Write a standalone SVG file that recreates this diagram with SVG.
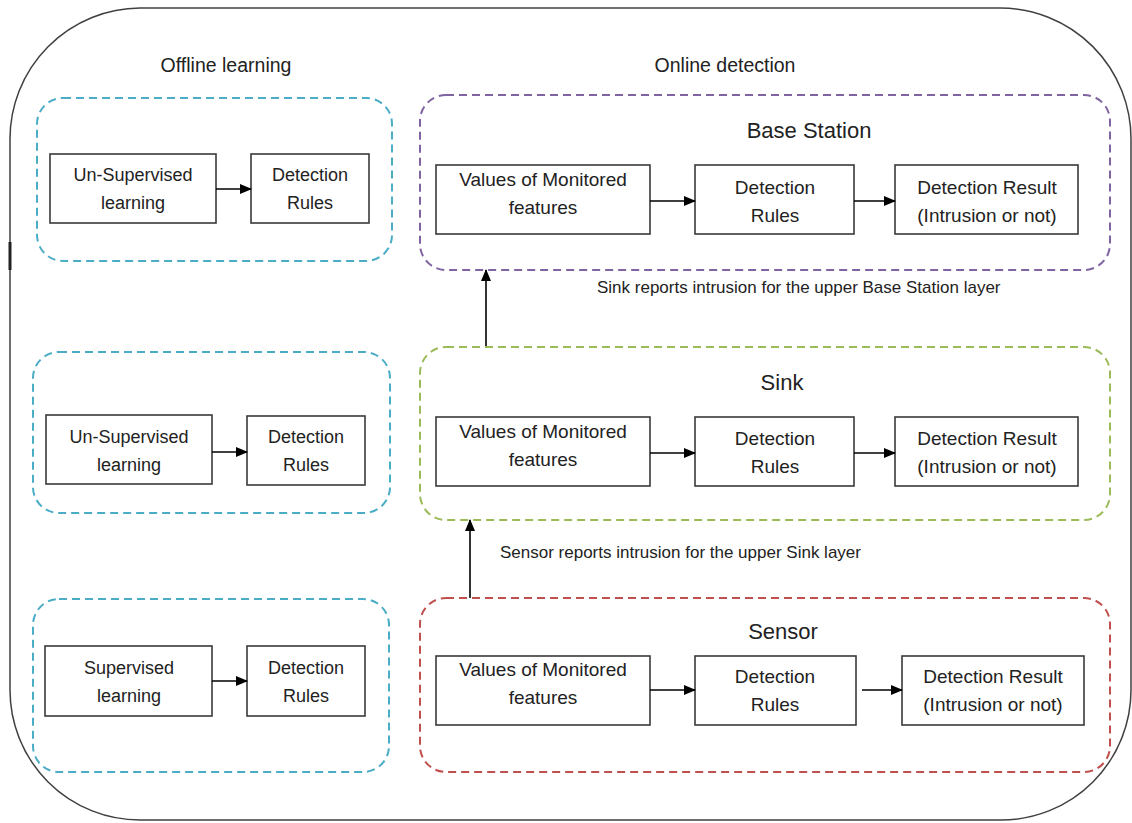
<svg xmlns="http://www.w3.org/2000/svg" width="1132" height="823" viewBox="0 0 1132 823">
  <defs>
    <marker id="arrow" viewBox="0 0 12 10" refX="11" refY="5" markerWidth="12" markerHeight="10" markerUnits="userSpaceOnUse" orient="auto">
      <path d="M0,0 L12,5 L0,10 Z" fill="#000"/>
    </marker>
    <style>
      text { font-family: "Liberation Sans", Arial, sans-serif; fill: #222; text-anchor: middle; }
      .head { font-size: 19.5px; }
      .title { font-size: 22px; }
      .lbl { font-size: 18px; }
      .lbl2 { font-size: 19px; }
      .note { font-size: 17px; text-anchor: start; }
      .box { fill: #fff; stroke: #3a3a3a; stroke-width: 1.6; }
      .grp { fill: none; stroke-width: 2; stroke-dasharray: 8 5; }
      .cyan { stroke: #4bacc6; }
      .purple { stroke: #8064a2; }
      .green { stroke: #9bbb59; }
      .red { stroke: #c0504d; }
      .link { stroke: #000; stroke-width: 1.6; fill: none; marker-end: url(#arrow); }
    </style>
  </defs>

  <rect width="1132" height="823" fill="#fff"/>

  <!-- outer frame -->
  <g id="frame">
    <path d="M140,8 H1000 A131,131 0 0 1 1131,139 V690 A130,130 0 0 1 1001,820 H140 A130,130 0 0 1 10,690 V139 A131,131 0 0 1 140,8 Z" fill="none" stroke="#404040" stroke-width="1.5"/>
    <line x1="10" y1="242" x2="10" y2="270" stroke="#222" stroke-width="3"/>
  </g>

  <!-- section headings -->
  <text class="head" x="226" y="72">Offline learning</text>
  <text class="head" x="725" y="72">Online detection</text>

  <!-- offline learning groups -->
  <g id="offline-1">
    <rect class="grp cyan" x="37" y="98" width="355" height="163" rx="26"/>
    <g id="unsup-1">
      <rect class="box" x="50" y="154" width="166" height="69"/>
      <text class="lbl" x="133" y="181">Un-Supervised</text>
      <text class="lbl" x="133" y="209">learning</text>
    </g>
    <g id="rules-off-1">
      <rect class="box" x="251" y="154" width="118" height="69"/>
      <text class="lbl" x="310" y="181">Detection</text>
      <text class="lbl" x="310" y="209">Rules</text>
    </g>
  </g>

  <g id="offline-2">
    <rect class="grp cyan" x="33" y="352" width="357" height="161" rx="26"/>
    <g id="unsup-2">
      <rect class="box" x="46" y="415" width="166" height="69"/>
      <text class="lbl" x="129" y="443">Un-Supervised</text>
      <text class="lbl" x="129" y="471">learning</text>
    </g>
    <g id="rules-off-2">
      <rect class="box" x="247" y="416" width="118" height="69"/>
      <text class="lbl" x="306" y="443">Detection</text>
      <text class="lbl" x="306" y="471">Rules</text>
    </g>
  </g>

  <g id="offline-3">
    <rect class="grp cyan" x="33" y="599" width="356" height="173" rx="26"/>
    <g id="sup-3">
      <rect class="box" x="45" y="646" width="167" height="70"/>
      <text class="lbl" x="129" y="674">Supervised</text>
      <text class="lbl" x="129" y="702">learning</text>
    </g>
    <g id="rules-off-3">
      <rect class="box" x="247" y="646" width="118" height="70"/>
      <text class="lbl" x="306" y="674">Detection</text>
      <text class="lbl" x="306" y="702">Rules</text>
    </g>
  </g>

  <!-- online detection: base station layer -->
  <g id="base-station">
    <rect class="grp purple" x="420" y="95" width="690" height="175" rx="26"/>
    <text class="title" x="809" y="138">Base Station</text>
    <g id="bs-values">
      <rect class="box" x="436" y="165" width="214" height="69"/>
      <text class="lbl2" x="543" y="186">Values of Monitored</text>
      <text class="lbl2" x="543" y="214">features</text>
    </g>
    <g id="bs-rules">
      <rect class="box" x="695" y="165" width="159" height="69"/>
      <text class="lbl2" x="775" y="194">Detection</text>
      <text class="lbl2" x="775" y="222">Rules</text>
    </g>
    <g id="bs-result">
      <rect class="box" x="895" y="165" width="183" height="69"/>
      <text class="lbl2" x="987" y="194">Detection Result</text>
      <text class="lbl2" x="987" y="222">(Intrusion or not)</text>
    </g>
  </g>

  <!-- online detection: sink layer -->
  <g id="sink">
    <rect class="grp green" x="420" y="347" width="690" height="173" rx="26"/>
    <text class="title" x="782" y="390">Sink</text>
    <g id="sink-values">
      <rect class="box" x="436" y="417" width="214" height="69"/>
      <text class="lbl2" x="543" y="438">Values of Monitored</text>
      <text class="lbl2" x="543" y="466">features</text>
    </g>
    <g id="sink-rules">
      <rect class="box" x="695" y="417" width="159" height="69"/>
      <text class="lbl2" x="775" y="445">Detection</text>
      <text class="lbl2" x="775" y="473">Rules</text>
    </g>
    <g id="sink-result">
      <rect class="box" x="895" y="417" width="183" height="69"/>
      <text class="lbl2" x="987" y="445">Detection Result</text>
      <text class="lbl2" x="987" y="473">(Intrusion or not)</text>
    </g>
  </g>

  <!-- online detection: sensor layer -->
  <g id="sensor">
    <rect class="grp red" x="420" y="598" width="690" height="174" rx="26"/>
    <text class="title" x="783" y="639">Sensor</text>
    <g id="sensor-values">
      <rect class="box" x="436" y="656" width="214" height="69"/>
      <text class="lbl2" x="543" y="676">Values of Monitored</text>
      <text class="lbl2" x="543" y="704">features</text>
    </g>
    <g id="sensor-rules">
      <rect class="box" x="695" y="656" width="161" height="69"/>
      <text class="lbl2" x="775" y="683">Detection</text>
      <text class="lbl2" x="775" y="711">Rules</text>
    </g>
    <g id="sensor-result">
      <rect class="box" x="902" y="656" width="182" height="69"/>
      <text class="lbl2" x="993" y="683">Detection Result</text>
      <text class="lbl2" x="993" y="711">(Intrusion or not)</text>
    </g>
  </g>

  <!-- reporting labels -->
  <text class="note" x="597" y="293">Sink reports intrusion for the upper Base Station layer</text>
  <text class="note" x="500" y="558">Sensor reports intrusion for the upper Sink layer</text>

  <!-- connectors -->
  <g id="connectors">
    <line class="link" x1="216" y1="189" x2="251" y2="189"/>
    <line class="link" x1="212" y1="452" x2="247" y2="452"/>
    <line class="link" x1="212" y1="681" x2="247" y2="681"/>

    <line class="link" x1="650" y1="201" x2="695" y2="201"/>
    <line class="link" x1="854" y1="201" x2="895" y2="201"/>
    <line class="link" x1="650" y1="453" x2="695" y2="453"/>
    <line class="link" x1="854" y1="453" x2="895" y2="453"/>
    <line class="link" x1="650" y1="690" x2="695" y2="690"/>
    <line class="link" x1="862" y1="690" x2="902" y2="690"/>

    <line class="link" x1="486" y1="346" x2="486" y2="270"/>
    <line class="link" x1="470" y1="598" x2="470" y2="520"/>
  </g>
</svg>
